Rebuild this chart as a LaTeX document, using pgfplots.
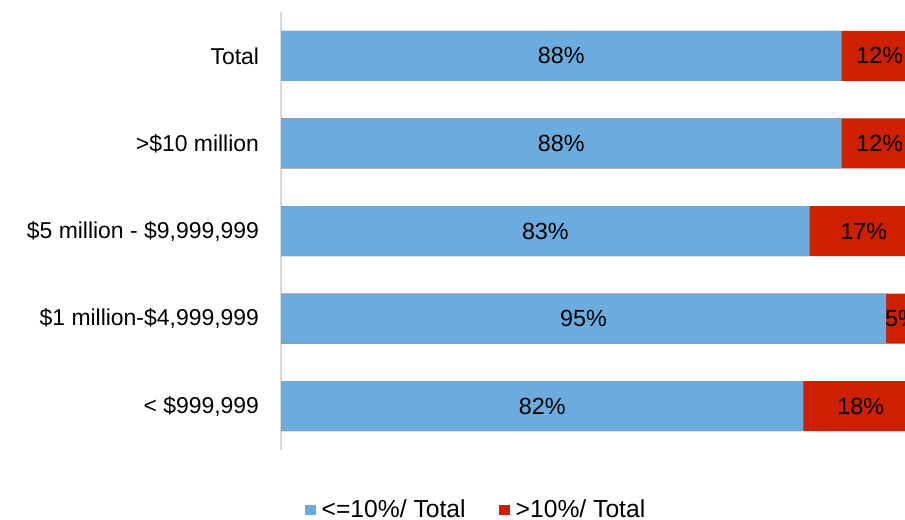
\documentclass[border=0pt]{standalone}
\usepackage{pgfplots}
\pgfplotsset{compat=1.18}
\usepackage{fontspec}
\setmainfont{Liberation Sans}
\definecolor{cblue}{RGB}{107,171,221}
\definecolor{cred}{RGB}{204,32,0}
\definecolor{cgray}{RGB}{217,217,217}
\begin{document}
\begin{tikzpicture}
\useasboundingbox (0,0) rectangle (678.75pt,-389.25pt);
\clip (0,0) rectangle (678.75pt,-389.25pt);
\begin{axis}[
  at={(210.75pt,-337.5pt)}, anchor=south west,
  scale only axis, width=477.75pt, height=328.5pt,
  xmin=0, xmax=100, ymin=-0.5, ymax=4.5,
  hide x axis,
  axis y line*=left,
  y axis line style={cgray, line width=1.5pt, -},
  ytick={0,1,2,3,4},
  yticklabels={{< \$999,999}, {\$1 million-\$4,999,999}, {\$5 million - \$9,999,999}, {>\$10 million}, {Total\hspace{3.5pt}}},
  ytick style={draw=none},
  yticklabel style={font=\fontsize{17.2}{21}\selectfont, text=black, xshift=-13pt},
  legend style={at={(0.031,-0.137)}, anchor=west, draw=none, fill=none,
    font=\fontsize{18.5}{22}\selectfont, legend columns=2,
    nodes={inner ysep=0pt},
    /tikz/every even column/.append style={column sep=23pt}},
  legend image code/.code={\fill[#1] (0pt,-4pt) rectangle (8pt,4pt);},
]
\addplot[xbar, bar width=37.5pt, bar shift=0pt, fill=cred, draw=none, forget plot]
  coordinates {(100,0) (100,1) (100,2) (100,3) (100,4)};
\addplot[xbar, bar width=37.5pt, bar shift=0pt, fill=cblue, draw=none, forget plot]
  coordinates {(82,0) (95,1) (83,2) (88,3) (88,4)};
\addplot[draw=none, mark=none, forget plot, nodes near coords, point meta=explicit symbolic,
  nodes near coords style={anchor=center, font=\fontsize{17.5}{21}\selectfont, text=black}]
  coordinates {(41,0)[82\%] (47.5,1)[95\%] (41.5,2)[83\%] (44,3)[88\%] (44,4)[88\%]
               (91,0)[18\%] (97.5,1)[5\%] (91.5,2)[17\%] (94,3)[12\%] (94,4)[12\%]};
\addlegendimage{fill=cblue, draw=none}
\addlegendentry{\hspace{2.5pt}<=10\%/ Total}
\addlegendimage{fill=cred, draw=none}
\addlegendentry{\hspace{2.5pt}>10\%/ Total}
\end{axis}
\end{tikzpicture}
\end{document}
